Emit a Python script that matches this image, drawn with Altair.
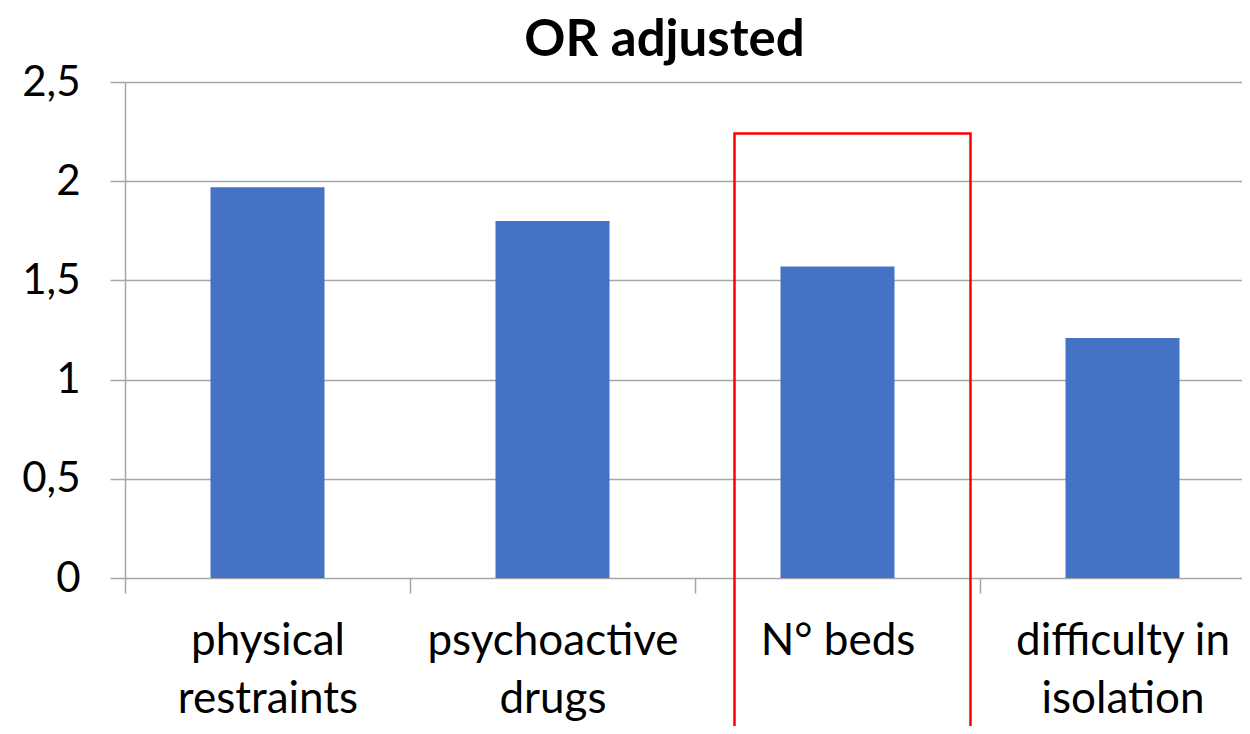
import altair as alt
import pandas as pd

categories = ["physical\nrestraints", "psychoactive\ndrugs", "N° beds", "difficulty in\nisolation"]
or_adjusted = [1.97, 1.80, 1.57, 1.21]
y_ticks = [0, 0.5, 1, 1.5, 2, 2.5]
highlight_category = ["N° beds"]
highlight_top = [2.24]

df = pd.DataFrame({"cat": categories, "value": or_adjusted})
hl = pd.DataFrame({"cat": highlight_category, "top": highlight_top})

FONT = "Lato"
GRID = "#a6a6a6"

x_enc = alt.X(
    "cat:N",
    sort=categories,
    scale=alt.Scale(range=[0, 1140], paddingInner=0, paddingOuter=0),
    axis=alt.Axis(
        title=None,
        labelAngle=0,
        labelFont=FONT,
        labelFontSize=44,
        labelColor="#000000",
        labelLineHeight=58,
        labelBaseline="top",
        labelPadding=26,
        labelLimit=0,
        labelExpr="split(datum.label, '\\n')",
        tickBand="extent",
        tickSize=15,
        tickColor=GRID,
        tickWidth=1.5,
        domain=False,
        grid=False,
    ),
)

y_enc = alt.Y(
    "value:Q",
    scale=alt.Scale(domain=[0, 2.5], nice=False),
    axis=alt.Axis(
        title=None,
        values=y_ticks,
        labelFont=FONT,
        labelFontSize=42,
        labelColor="#000000",
        labelPadding=30,
        labelExpr="replace(toString(datum.value), '.', ',')",
        tickSize=15,
        tickColor=GRID,
        tickWidth=1.5,
        domainColor=GRID,
        domainWidth=1.5,
        gridColor=GRID,
        gridWidth=1.5,
    ),
)

bars = alt.Chart(df).mark_bar(size=114, color="#4472C4").encode(x=x_enc, y=y_enc)

box = alt.Chart(hl).mark_rect(
    filled=False, stroke="#ff0000", strokeWidth=2.5, width=236, xOffset=15, clip=False
).encode(
    x=alt.X("cat:N", sort=categories),
    y=alt.Y("top:Q"),
    y2=alt.value(700),
)

chart = (
    alt.layer(bars, box)
    .properties(
        width=1117,
        height=496,
        title=alt.TitleParams(
            "OR adjusted",
            font=FONT,
            fontSize=51,
            fontWeight="bold",
            color="#000000",
            anchor="middle",
            frame="group",
            dx=-19,
            offset=-6,
        ),
        autosize=alt.AutoSizeParams(type="none"),
        padding={"left": 117, "top": 74, "right": 0, "bottom": 148},
    )
    .configure_view(stroke=None)
)

chart.save("out.html", embed_options={"renderer": "svg", "actions": False})
